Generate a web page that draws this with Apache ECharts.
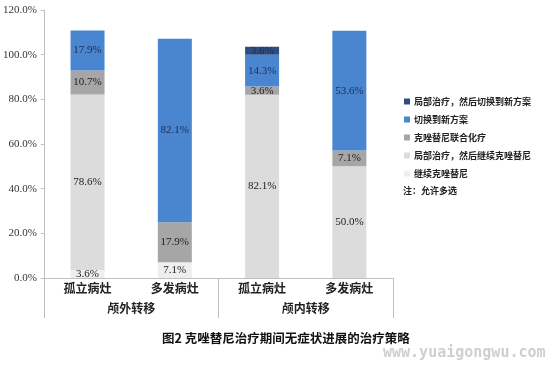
<!DOCTYPE html>
<html><head><meta charset="utf-8">
<script src="https://cdn.jsdelivr.net/npm/echarts@6/dist/echarts.min.js"></script>
<style>html,body{margin:0;padding:0;background:#fff}#c{width:553px;height:370px}</style>
</head><body><div id="c"></div>
<script>
const subCategories = ['孤立病灶','多发病灶','孤立病灶','多发病灶'];
const groupCategories = ['颅外转移','颅内转移'];
const yTicks = [0,20,40,60,80,100,120];
const seriesNames = ['继续克唑替尼','局部治疗，然后继续克唑替尼','克唑替尼联合化疗','切换到新方案','局部治疗，然后切换到新方案'];
const continueCrizotinib = [3.6, 7.1, null, null];
const localThenContinue = [78.6, null, 82.1, 50.0];
const combinedChemo = [10.7, 17.9, 3.6, 7.1];
const switchNew = [17.9, 82.1, 14.3, 53.6];
const localThenSwitch = [null, null, 3.6, null];
const colors = ['#eeeeee','#dcdcdc','#a6a6a6','#4a86cf','#2c4f80'];
const labelColors = ['#222','#222','#222','#1a2c55','#1a2c55'];
const values = [continueCrizotinib, localThenContinue, combinedChemo, switchNew, localThenSwitch];

const chart = echarts.init(document.getElementById('c'));
const serif = 'Liberation Serif';
const cjk = 'Noto Sans CJK SC';
chart.setOption({
  backgroundColor:'#fff',
  animation:false,
  grid:{left:43,right:160,top:10,bottom:92},
  legend:{
    orient:'vertical',left:399,top:92,itemWidth:6,itemHeight:6,itemGap:9,
    icon:'rect',
    data:[seriesNames[4],seriesNames[3],seriesNames[2],seriesNames[1],seriesNames[0]],
    textStyle:{fontFamily:cjk,fontSize:9,fontWeight:'bold',color:'#222',padding:[0,0,0,-1]}
  },
  xAxis:[{
    type:'category',data:subCategories,position:'bottom',
    axisLine:{lineStyle:{color:'#bfbfbf'}},
    axisTick:{length:14,lineStyle:{color:'#bfbfbf'}},
    axisLabel:{margin:4,fontFamily:cjk,fontWeight:'bold',fontSize:12,color:'#222'}
  },{
    type:'category',data:groupCategories,position:'bottom',
    axisLine:{show:true,lineStyle:{color:'#bfbfbf'}},
    axisTick:{show:true,length:40,lineStyle:{color:'#bfbfbf'}},
    axisLabel:{margin:24,fontFamily:cjk,fontWeight:'bold',fontSize:12,color:'#222'}
  }],
  yAxis:{
    type:'value',min:0,max:120,interval:20,
    axisLine:{show:true,lineStyle:{color:'#bfbfbf'}},
    axisTick:{show:true,length:3,lineStyle:{color:'#bfbfbf'}},
    splitLine:{show:false},
    axisLabel:{margin:7,fontFamily:serif,fontSize:11,color:'#333',formatter:v=>v.toFixed(1)+'%'}
  },
  series: seriesNames.map((n,i)=>({
    name:n,type:'bar',stack:'s',xAxisIndex:0,barWidth:34,
    data:values[i],
    itemStyle:{color:colors[i]},
    label:{show:true,position:'inside',fontFamily:serif,fontSize:11,color:labelColors[i],
      formatter:p=>p.value==null?'':p.value.toFixed(1)+'%'}
  })),
  graphic:[
    {type:'text',left:403,top:186,style:{text:'注：允许多选',font:'bold 9px "Noto Sans CJK SC"',fill:'#222'}},
    {type:'text',left:162,top:332,style:{text:'图2 克唑替尼治疗期间无症状进展的治疗策略',font:'bold 12.5px "Noto Sans CJK SC"',fill:'#111'}},
    {type:'text',left:383,top:346,style:{text:'www.yuaigongwu.com',font:'bold 15px "DejaVu Sans Mono"',fill:'#cfcfcf'}}
  ]
});
</script></body></html>
